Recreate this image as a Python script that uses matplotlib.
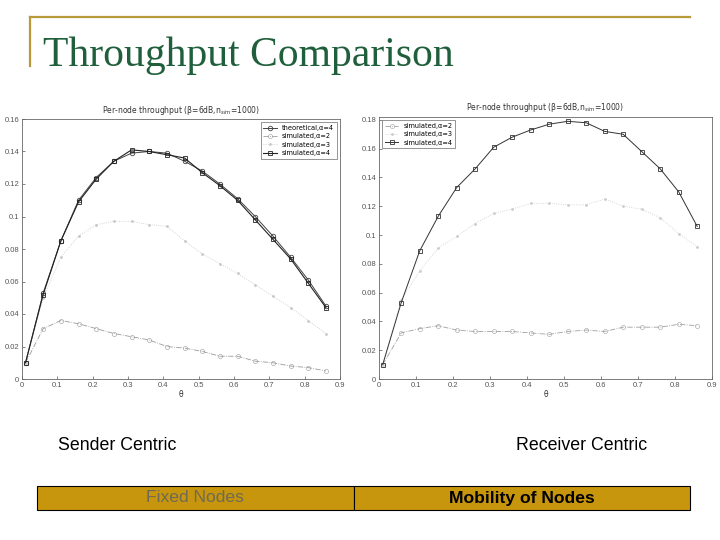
import matplotlib
matplotlib.use("Agg")
import matplotlib.pyplot as plt
from matplotlib.patches import Rectangle
from matplotlib.lines import Line2D

# ---------------- data ----------------
theta = [0.01, 0.06, 0.11, 0.16, 0.21, 0.26, 0.31, 0.36, 0.41, 0.46,
         0.51, 0.56, 0.61, 0.66, 0.71, 0.76, 0.81, 0.86]

# Sender centric (fixed nodes)
sc_theo_a4 = [0.010, 0.053, 0.085, 0.110, 0.124, 0.134, 0.139, 0.140, 0.139, 0.134,
              0.128, 0.120, 0.111, 0.100, 0.088, 0.075, 0.061, 0.045]
sc_sim_a2 = [0.010, 0.031, 0.036, 0.034, 0.031, 0.028, 0.026, 0.024, 0.020, 0.019,
             0.017, 0.014, 0.014, 0.011, 0.010, 0.008, 0.007, 0.005]
sc_sim_a3 = [0.010, 0.050, 0.075, 0.088, 0.095, 0.097, 0.097, 0.095, 0.094, 0.085,
             0.077, 0.071, 0.065, 0.058, 0.051, 0.044, 0.036, 0.028]
sc_sim_a4 = [0.010, 0.052, 0.085, 0.109, 0.123, 0.134, 0.141, 0.140, 0.138, 0.136,
             0.127, 0.119, 0.110, 0.098, 0.086, 0.074, 0.059, 0.044]

# Receiver centric (mobility)
rc_sim_a2 = [0.010, 0.032, 0.035, 0.037, 0.034, 0.033, 0.033, 0.033, 0.032, 0.031,
             0.033, 0.034, 0.033, 0.036, 0.036, 0.036, 0.038, 0.037]
rc_sim_a3 = [0.010, 0.055, 0.075, 0.091, 0.099, 0.108, 0.115, 0.118, 0.122, 0.122,
             0.121, 0.121, 0.125, 0.120, 0.118, 0.112, 0.101, 0.092]
rc_sim_a4 = [0.010, 0.053, 0.089, 0.113, 0.133, 0.146, 0.161, 0.168, 0.173, 0.177,
             0.179, 0.178, 0.172, 0.170, 0.158, 0.146, 0.130, 0.106]

x_ticks = [0, 0.1, 0.2, 0.3, 0.4, 0.5, 0.6, 0.7, 0.8, 0.9]
x_tick_labels = ["0", "0.1", "0.2", "0.3", "0.4", "0.5", "0.6", "0.7", "0.8", "0.9"]
sc_y_ticks = [0, 0.02, 0.04, 0.06, 0.08, 0.10, 0.12, 0.14, 0.16]
sc_y_labels = ["0", "0.02", "0.04", "0.06", "0.08", "0.1", "0.12", "0.14", "0.16"]
rc_y_ticks = [0, 0.02, 0.04, 0.06, 0.08, 0.10, 0.12, 0.14, 0.16, 0.18]
rc_y_labels = ["0", "0.02", "0.04", "0.06", "0.08", "0.1", "0.12", "0.14", "0.16", "0.18"]

W, H = 720, 540
fig = plt.figure(figsize=(7.2, 5.4), dpi=100)
fig.patch.set_facecolor("white")

def px_axes(x0, y0, x1, y1):
    return fig.add_axes([x0 / W, 1 - y1 / H, (x1 - x0) / W, (y1 - y0) / H])

# ---------- slide decoration ----------
gold = "#b89a3a"
fig.add_artist(Line2D([30 / W, 690 / W], [1 - 17 / H, 1 - 17 / H], color=gold, lw=1.6))
fig.add_artist(Line2D([30 / W, 30 / W], [1 - 17 / H, 1 - 66 / H], color=gold, lw=1.6))
fig.text(43 / W, 1 - 66 / H, "Throughput Comparison", family="Liberation Serif",
         fontsize=30, color="#1f5f3b", ha="left", va="baseline")

tick_font = dict(fontsize=5.5, color="#333333", family="Liberation Sans")

def style_axes(ax, ymax, yticks, ylabels):
    ax.set_xlim(0, 0.9)
    ax.set_ylim(0, ymax)
    ax.set_xticks(x_ticks)
    ax.set_xticklabels(x_tick_labels, **tick_font)
    ax.set_yticks(yticks)
    ax.set_yticklabels(ylabels, **tick_font)
    ax.tick_params(direction="in", length=2, width=0.5, colors="#555555", pad=2)
    for s in ax.spines.values():
        s.set_linewidth(0.6)
        s.set_color("#666666")
    ax.set_xlabel("θ", fontsize=5.5, color="#333333", labelpad=1)

# ---------- left: sender centric ----------
axL = px_axes(22, 119, 340, 379)
axL.plot(theta, sc_theo_a4, color="#444444", lw=0.7, marker="o", ms=3.2,
         mfc="none", mew=0.6, label="theoretical,α=4")
axL.plot(theta, sc_sim_a2, color="#9a9a9a", lw=0.6, ls="-.", marker="o", ms=3,
         mfc="none", mew=0.4, label="simulated,α=2")
axL.plot(theta, sc_sim_a3, color="#c8c8c8", lw=0.6, ls=":", marker=".", ms=2,
         label="simulated,α=3")
axL.plot(theta, sc_sim_a4, color="#222222", lw=0.8, marker="s", ms=3,
         mfc="none", mew=0.6, label="simulated,α=4")
style_axes(axL, 0.16, sc_y_ticks, sc_y_labels)
axL.set_title("Per-node throughput (β=6dB,n$_{sim}$=1000)", fontsize=5.5,
              color="#333333", pad=4)
legL = axL.legend(loc="upper right", fontsize=4.8, frameon=True, fancybox=False,
                  edgecolor="#444444", handlelength=2.0, borderpad=0.4,
                  labelspacing=0.35, markerfirst=True)
legL.get_frame().set_linewidth(0.5)

# ---------- right: receiver centric ----------
axR = px_axes(379, 117, 712, 379)
axR.plot(theta, rc_sim_a2, color="#a0a0a0", lw=0.6, ls="-.", marker="o", ms=3,
         mfc="none", mew=0.4, label="simulated,α=2")
axR.plot(theta, rc_sim_a3, color="#cccccc", lw=0.6, ls=":", marker=".", ms=2,
         label="simulated,α=3")
axR.plot(theta, rc_sim_a4, color="#333333", lw=0.7, marker="s", ms=3,
         mfc="none", mew=0.6, label="simulated,α=4")
style_axes(axR, 0.182, rc_y_ticks, rc_y_labels)
axR.set_title("Per-node throughput (β=6dB,n$_{sim}$=1000)", fontsize=5.5,
              color="#333333", pad=5)
legR = axR.legend(loc="upper left", fontsize=4.8, frameon=True, fancybox=False,
                  edgecolor="#444444", handlelength=2.0, borderpad=0.4,
                  labelspacing=0.35)
legR.get_frame().set_linewidth(0.5)

# ---------- captions ----------
fig.text(117 / W, 1 - 445 / H, "Sender Centric", family="Liberation Sans",
         fontsize=12.8, color="black", ha="center", va="center")
fig.text(582 / W, 1 - 445 / H, "Receiver Centric", family="Liberation Sans",
         fontsize=12.8, color="black", ha="center", va="center")

# ---------- bottom bar ----------
bar_color = "#c8960c"
fig.add_artist(Rectangle((37 / W, 1 - 510 / H), (354 - 37) / W, 24 / H,
                         transform=fig.transFigure, facecolor=bar_color,
                         edgecolor="black", lw=0.8))
fig.add_artist(Rectangle((354 / W, 1 - 510 / H), (690 - 354) / W, 24 / H,
                         transform=fig.transFigure, facecolor=bar_color,
                         edgecolor="black", lw=0.8))
fig.text(195 / W, 1 - 498 / H, "Fixed Nodes", family="Liberation Sans",
         fontsize=12.6, color="#6e6a55", ha="center", va="center")
fig.text(522 / W, 1 - 498 / H, "Mobility of Nodes", family="Liberation Sans",
         fontsize=12.6, color="black", weight="bold", ha="center", va="center")

fig.savefig("out.png", dpi=100, facecolor="white")
